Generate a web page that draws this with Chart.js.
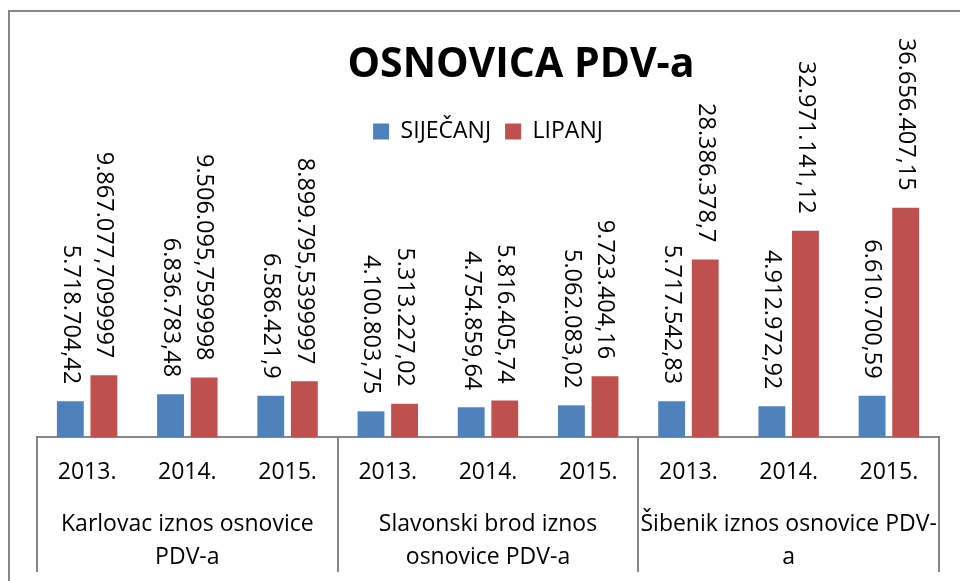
<!DOCTYPE html>
<html>
<head>
<meta charset="utf-8">
<script src="https://cdn.jsdelivr.net/npm/chart.js@4"></script>
<style>
    html, body { margin: 0; padding: 0; background: #ffffff; }
    #wrap { width: 960px; height: 581px; position: relative; }
</style>
</head>
<body>
<div id="wrap"><canvas id="osnovicaChart"></canvas></div>
<script>
const tickLabels = ['2013.', '2014.', '2015.', '2013.', '2014.', '2015.', '2013.', '2014.', '2015.'];
const groupLabels = [
    ['Karlovac iznos osnovice', 'PDV-a'],
    ['Slavonski brod iznos', 'osnovice PDV-a'],
    ['Šibenik iznos osnovice PDV-', 'a']
];
const sijecanj = [5718704.42, 6836783.48, 6586421.9, 4100803.75, 4754859.64, 5062083.02, 5717542.83, 4912972.92, 6610700.59];
const lipanj = [9867077.7099997, 9506095.7599998, 8899795.5399997, 5313227.02, 5816405.74, 9723404.16, 28386378.7, 32971141.12, 36656407.15];
const seriesNames = ['SIJEČANJ', 'LIPANJ'];
const chartTitle = 'OSNOVICA PDV-a';

const FONT = '"Open Sans", "Noto Sans", sans-serif';

// 1234567.89 -> 1.234.567,89
function formatHr(v) {
    const parts = String(v).split('.');
    const whole = parts[0].replace(/\B(?=(\d{3})+(?!\d))/g, '.');
    return parts.length > 1 ? whole + ',' + parts[1] : whole;
}

const framePlugin = {
    id: 'frame',
    beforeDraw(chart) {
        const ctx = chart.ctx;
        ctx.save();
        ctx.fillStyle = '#ffffff';
        ctx.fillRect(0, 0, chart.width, chart.height);
        ctx.strokeStyle = '#868686';
        ctx.lineWidth = 2;
        ctx.beginPath();
        ctx.moveTo(9, chart.height);
        ctx.lineTo(9, 11);
        ctx.lineTo(chart.width, 11);
        ctx.stroke();
        ctx.restore();
    },
    afterDraw(chart) {
        const ctx = chart.ctx;
        ctx.save();
        ctx.fillStyle = '#000000';
        ctx.font = 'bold 41px ' + FONT;
        ctx.textAlign = 'center';
        ctx.textBaseline = 'alphabetic';
        ctx.fillText(chartTitle, 521, 77);
        ctx.restore();
    }
};

const valueLabelPlugin = {
    id: 'valueLabels',
    afterDatasetsDraw(chart) {
        const ctx = chart.ctx;
        ctx.save();
        ctx.fillStyle = '#000000';
        ctx.font = '23.5px ' + FONT;
        ctx.textAlign = 'right';
        ctx.textBaseline = 'middle';
        chart.data.datasets.forEach((ds, di) => {
            const meta = chart.getDatasetMeta(di);
            meta.data.forEach((bar, i) => {
                ctx.save();
                ctx.translate(bar.x, bar.y - 17);
                ctx.rotate(Math.PI / 2);
                ctx.fillText(formatHr(ds.data[i]), 0, 0);
                ctx.restore();
            });
        });
        ctx.restore();
    }
};

const groupAxisPlugin = {
    id: 'groupAxis',
    afterDraw(chart) {
        const ctx = chart.ctx;
        const x = chart.scales.x;
        const step = (x.right - x.left) / tickLabels.length;
        const top = chart.chartArea.bottom;
        ctx.save();
        ctx.strokeStyle = '#868686';
        ctx.lineWidth = 2;
        for (let g = 0; g <= groupLabels.length; g++) {
            const px = Math.round(x.getPixelForValue(g * 3) - step / 2);
            ctx.beginPath();
            ctx.moveTo(px, top);
            ctx.lineTo(px, top + 135);
            ctx.stroke();
        }
        ctx.fillStyle = '#000000';
        ctx.font = '23px ' + FONT;
        ctx.textAlign = 'center';
        ctx.textBaseline = 'middle';
        groupLabels.forEach((lines, g) => {
            const cx = x.getPixelForValue(g * 3 + 1);
            lines.forEach((line, li) => {
                ctx.fillText(line, cx, top + 87 + li * 33);
            });
        });
        ctx.restore();
    }
};

function createChart() {
    const ctx = document.getElementById('osnovicaChart').getContext('2d');
    new Chart(ctx, {
        type: 'bar',
        data: {
            labels: tickLabels,
            datasets: [{
                label: seriesNames[0],
                data: sijecanj,
                backgroundColor: '#4F81BD',
                borderWidth: 0
            }, {
                label: seriesNames[1],
                data: lipanj,
                backgroundColor: '#C0504D',
                borderWidth: 0
            }]
        },
        options: {
            responsive: true,
            maintainAspectRatio: false,
            animation: false,
            categoryPercentage: 0.67,
            barPercentage: 0.8,
            layout: {
                padding: { top: 106, left: 37, right: 21, bottom: 0 }
            },
            plugins: {
                title: { display: false },
                tooltip: { enabled: false },
                legend: {
                    position: 'top',
                    labels: {
                        boxWidth: 16,
                        boxHeight: 16,
                        padding: 14,
                        color: '#000000',
                        font: { family: FONT, size: 23 }
                    }
                }
            },
            scales: {
                x: {
                    grid: { display: false, drawTicks: false },
                    border: { display: true, color: '#868686', width: 2 },
                    ticks: {
                        color: '#000000',
                        padding: 22,
                        font: { family: FONT, size: 23 }
                    },
                    afterFit(scale) {
                        scale.height = 144;
                    }
                },
                y: {
                    display: false,
                    min: 0,
                    max: 45400000
                }
            }
        },
        plugins: [framePlugin, valueLabelPlugin, groupAxisPlugin]
    });
}

document.addEventListener('DOMContentLoaded', createChart);
</script>
</body>
</html>
